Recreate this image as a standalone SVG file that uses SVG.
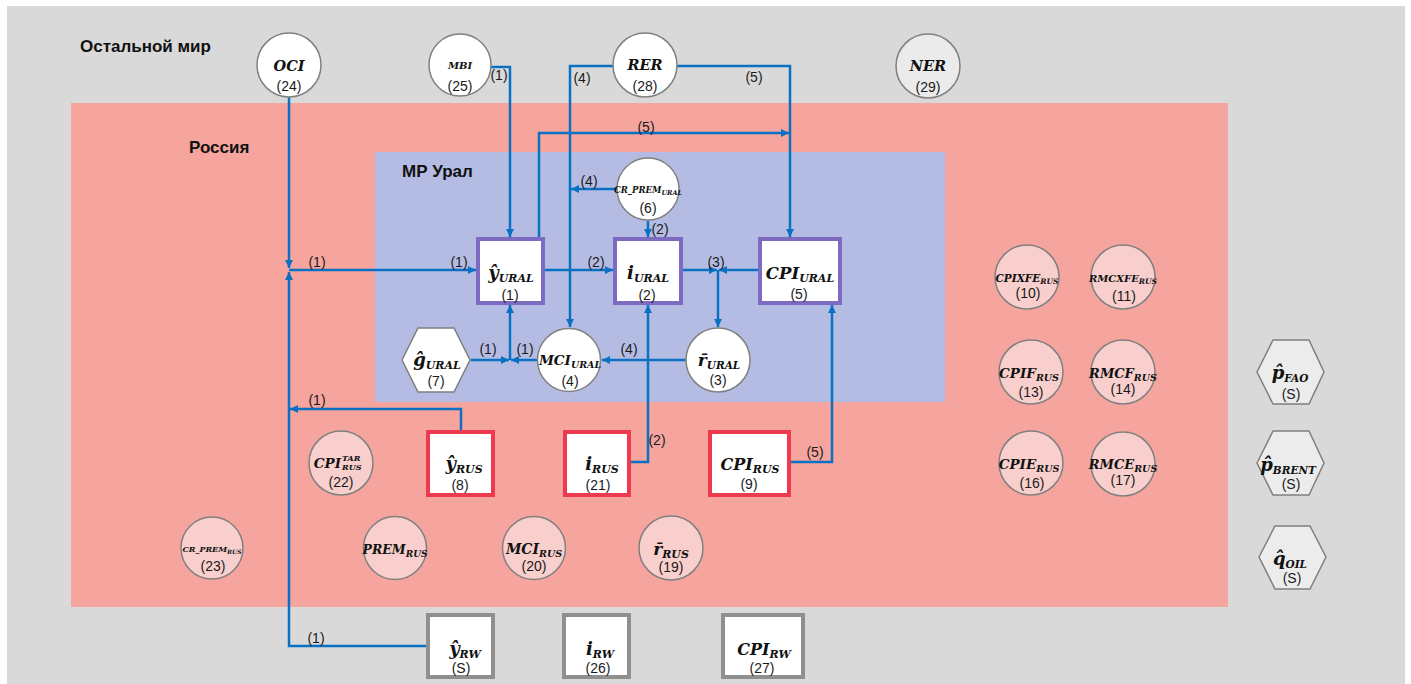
<svg xmlns="http://www.w3.org/2000/svg" width="1411" height="684" viewBox="0 0 1411 684">
<defs>
<marker id="ar" viewBox="0 0 10 10" refX="10" refY="5" markerWidth="8" markerHeight="8" markerUnits="userSpaceOnUse" orient="auto">
<path d="M0,0 L10,5 L0,10 z" fill="#0a70c4"/>
</marker>
<style>
.m{font-family:"DejaVu Serif",serif;font-weight:bold;font-style:italic;text-anchor:middle;fill:#111}
.ms{font-family:"DejaVu Serif",serif;font-weight:bold;font-style:italic;fill:#111}
.n{font-family:"Liberation Sans",Arial,sans-serif;font-size:14px;text-anchor:middle;fill:#1a1a1a}
.l{font-family:"Liberation Sans",Arial,sans-serif;font-size:14px;text-anchor:middle;fill:#1a1a1a}
.t{font-family:"Liberation Sans",Arial,sans-serif;font-size:17px;font-weight:bold;fill:#111}
.cw{fill:#ffffff;stroke:#808080;stroke-width:1.5}
.cp{fill:#f8cfcd;stroke:#808080;stroke-width:1.5}
.cg{fill:#ebebeb;stroke:#808080;stroke-width:1.5}
.hx{fill:#ffffff;stroke:#7f7f7f;stroke-width:1.5}
.hg{fill:#ececec;stroke:#7f7f7f;stroke-width:1.5}
.bp{fill:#ffffff;stroke:#7d6bc1;stroke-width:4}
.br{fill:#ffffff;stroke:#ee3a4f;stroke-width:4}
.bg{fill:#ffffff;stroke:#8f8f8f;stroke-width:4}
.c{fill:none;stroke:#0a70c4;stroke-width:2.5;marker-end:url(#ar)}
</style>
</defs>

<g id="regions">
<rect x="7" y="6" width="1398" height="678" fill="#d9d9d9"/>
<rect x="71" y="103" width="1157" height="504" fill="#f6a49e"/>
<rect x="375" y="152" width="570" height="250" fill="#b5bce3"/>
<text class="t" x="80" y="52">Остальной мир</text>
<text class="t" x="189" y="153">Россия</text>
<text class="t" x="402" y="177">МР Урал</text>
</g>

<g id="connectors">
<path class="c" d="M289,97 V268"/>
<path class="c" d="M428,646 H289 V272"/>
<path class="c" d="M461,432 V409 H290"/>
<path class="c" d="M289,270 H476"/>
<path class="c" d="M491,67 H510 V237"/>
<path class="c" d="M614,66 H570 V327"/>
<path class="c" d="M617,189 H571"/>
<path class="c" d="M677,66 H790 V237"/>
<path class="c" d="M539,237 V133 H789"/>
<path class="c" d="M543,270 H613"/>
<path class="c" d="M683,270 H717"/>
<path class="c" d="M758,270 H719"/>
<path class="c" d="M718,270 V327"/>
<path class="c" d="M648,221 V237"/>
<path class="c" d="M686,360 H602"/>
<path class="c" d="M538,360 H511"/>
<path class="c" d="M471,360 H509"/>
<path class="c" d="M510,360 V305"/>
<path class="c" d="M631,462 H648 V305"/>
<path class="c" d="M791,462 H832 V305"/>
<text class="l" x="499" y="80">(1)</text>
<text class="l" x="582" y="83">(4)</text>
<text class="l" x="754" y="82">(5)</text>
<text class="l" x="646" y="132">(5)</text>
<text class="l" x="589" y="186">(4)</text>
<text class="l" x="660" y="234">(2)</text>
<text class="l" x="317" y="267">(1)</text>
<text class="l" x="459" y="267">(1)</text>
<text class="l" x="596" y="267">(2)</text>
<text class="l" x="716" y="267">(3)</text>
<text class="l" x="488" y="354">(1)</text>
<text class="l" x="525" y="354">(1)</text>
<text class="l" x="629" y="354">(4)</text>
<text class="l" x="317" y="405">(1)</text>
<text class="l" x="657" y="445">(2)</text>
<text class="l" x="815" y="457">(5)</text>
<text class="l" x="316" y="643">(1)</text>
</g>

<g id="n24"><circle class="cw" cx="289" cy="65" r="32"/><text class="m" x="289" y="71" font-size="14.5">OCI</text><text class="n" x="289" y="91">(24)</text></g>
<g id="n25"><circle class="cw" cx="460" cy="65" r="31"/><text class="m" x="460" y="69" font-size="10">MBI</text><text class="n" x="460" y="91">(25)</text></g>
<g id="n28"><circle class="cw" cx="645" cy="65" r="32"/><text class="m" x="645" y="70" font-size="14.5">RER</text><text class="n" x="645" y="91">(28)</text></g>
<g id="n29"><circle class="cg" cx="928" cy="66" r="32"/><text class="m" x="928" y="71" font-size="14.5">NER</text><text class="n" x="928" y="92">(29)</text></g>

<g id="n6"><circle class="cw" cx="648" cy="189" r="31"/><text class="m" x="648" y="193" font-size="8.5">CR_PREM<tspan font-size="6.5" dy="2">URAL</tspan></text><text class="n" x="648" y="213">(6)</text></g>

<g id="n1"><rect class="bp" x="478" y="239" width="65" height="64"/><text class="m" x="511" y="279" font-size="18">ŷ<tspan font-size="11" dy="3">URAL</tspan></text><text class="n" x="510" y="300">(1)</text></g>
<g id="n2"><rect class="bp" x="615" y="239" width="66" height="64"/><text class="m" x="648" y="279" font-size="18">i<tspan font-size="11" dy="3">URAL</tspan></text><text class="n" x="647" y="300">(2)</text></g>
<g id="n5"><rect class="bp" x="760" y="239" width="80" height="64"/><text class="m" x="800" y="279" font-size="16.5">CPI<tspan font-size="11" dy="3">URAL</tspan></text><text class="n" x="799" y="299">(5)</text></g>

<g id="n7"><polygon class="hx" points="402,360 418,328 454,328 470,360 454,392 418,392"/><text class="m" x="437" y="366" font-size="18">ĝ<tspan font-size="11" dy="3">URAL</tspan></text><text class="n" x="436" y="386">(7)</text></g>
<g id="n4"><circle class="cw" cx="569" cy="360" r="31.5"/><text class="m" x="570" y="365" font-size="13.5">MCI<tspan font-size="9.5" dy="3">URAL</tspan></text><text class="n" x="570" y="386">(4)</text></g>
<g id="n3"><circle class="cw" cx="718" cy="360" r="32"/><text class="m" x="719" y="366" font-size="17">r̄<tspan font-size="10.5" dy="3">URAL</tspan></text><text class="n" x="718" y="385">(3)</text></g>

<g id="n8"><rect class="br" x="428" y="432" width="65" height="63"/><text class="m" x="464" y="470" font-size="18">ŷ<tspan font-size="11" dy="3">RUS</tspan></text><text class="n" x="460" y="490">(8)</text></g>
<g id="n21"><rect class="br" x="565" y="432" width="64" height="63"/><text class="m" x="602" y="470" font-size="18">i<tspan font-size="11" dy="3">RUS</tspan></text><text class="n" x="598" y="490">(21)</text></g>
<g id="n9"><rect class="br" x="710" y="432" width="79" height="63"/><text class="m" x="750" y="470" font-size="16">CPI<tspan font-size="11" dy="3">RUS</tspan></text><text class="n" x="749" y="489">(9)</text></g>

<g id="n22"><circle class="cp" cx="341" cy="463" r="32"/><text class="ms" x="341" y="468" font-size="13.5" text-anchor="end">CPI</text><text class="ms" x="342" y="461" font-size="8">TAR</text><text class="ms" x="342" y="470" font-size="8">RUS</text><text class="n" x="341" y="487">(22)</text></g>
<g id="n23"><circle class="cp" cx="212" cy="548" r="31"/><text class="m" x="212" y="552" font-size="8">CR_PREM<tspan font-size="6" dy="2">RUS</tspan></text><text class="n" x="213" y="571">(23)</text></g>
<g id="n18"><circle class="cp" cx="395" cy="548" r="31.5"/><text class="m" x="395" y="554" font-size="12.5">PREM<tspan font-size="9" dy="3">RUS</tspan></text></g>
<g id="n20"><circle class="cp" cx="534" cy="548" r="31.5"/><text class="m" x="534" y="554" font-size="14">MCI<tspan font-size="9.5" dy="3">RUS</tspan></text><text class="n" x="534" y="571">(20)</text></g>
<g id="n19"><circle class="cp" cx="671" cy="548" r="32"/><text class="m" x="671" y="555" font-size="17">r̄<tspan font-size="11" dy="3">RUS</tspan></text><text class="n" x="671" y="572">(19)</text></g>

<g id="n10"><circle class="cp" cx="1027" cy="277" r="32"/><text class="m" x="1027" y="282" font-size="10.5">CPIXFE<tspan font-size="7.5" dy="2">RUS</tspan></text><text class="n" x="1028" y="298">(10)</text></g>
<g id="n11"><circle class="cp" cx="1123" cy="277" r="32"/><text class="m" x="1123" y="282" font-size="10">RMCXFE<tspan font-size="7.5" dy="2">RUS</tspan></text><text class="n" x="1124" y="301">(11)</text></g>
<g id="n13"><circle class="cp" cx="1031" cy="372" r="32"/><text class="m" x="1029" y="378" font-size="13.5">CPIF<tspan font-size="9.5" dy="3">RUS</tspan></text><text class="n" x="1031" y="397">(13)</text></g>
<g id="n14"><circle class="cp" cx="1123" cy="372" r="32"/><text class="m" x="1123" y="378" font-size="13">RMCF<tspan font-size="9.5" dy="3">RUS</tspan></text><text class="n" x="1123" y="394">(14)</text></g>
<g id="n16"><circle class="cp" cx="1031" cy="463" r="32"/><text class="m" x="1029" y="469" font-size="13.5">CPIE<tspan font-size="9.5" dy="3">RUS</tspan></text><text class="n" x="1032" y="488">(16)</text></g>
<g id="n17"><circle class="cp" cx="1123" cy="464" r="32"/><text class="m" x="1123" y="469" font-size="13">RMCE<tspan font-size="9.5" dy="3">RUS</tspan></text><text class="n" x="1123" y="485">(17)</text></g>

<g id="sFAO"><polygon class="hg" points="1257,372 1273,340 1309,340 1324,372 1309,404 1273,404"/><text class="m" x="1290" y="379" font-size="18">p̂<tspan font-size="10.5" dy="3">FAO</tspan></text><text class="n" x="1291" y="399">(S)</text></g>
<g id="sBRENT"><polygon class="hg" points="1257,463 1273,431 1309,431 1324,463 1309,495 1273,495"/><text class="m" x="1288" y="471" font-size="18">p̂<tspan font-size="10.5" dy="3">BRENT</tspan></text><text class="n" x="1291" y="489">(S)</text></g>
<g id="sOIL"><polygon class="hg" points="1259,557 1275,526 1310,526 1326,557 1310,589 1275,589"/><text class="m" x="1290" y="565" font-size="18">q̂<tspan font-size="10.5" dy="3">OIL</tspan></text><text class="n" x="1292" y="583">(S)</text></g>

<g id="sRW"><rect class="bg" x="428" y="615" width="65" height="62"/><text class="m" x="465" y="655" font-size="18">ŷ<tspan font-size="11" dy="3">RW</tspan></text><text class="n" x="461" y="673">(S)</text></g>
<g id="n26"><rect class="bg" x="564" y="615" width="65" height="62"/><text class="m" x="600" y="655" font-size="18">i<tspan font-size="11" dy="3">RW</tspan></text><text class="n" x="598" y="673">(26)</text></g>
<g id="n27"><rect class="bg" x="723" y="615" width="80" height="62"/><text class="m" x="764" y="655" font-size="16">CPI<tspan font-size="11" dy="3">RW</tspan></text><text class="n" x="762" y="673">(27)</text></g>
</svg>
